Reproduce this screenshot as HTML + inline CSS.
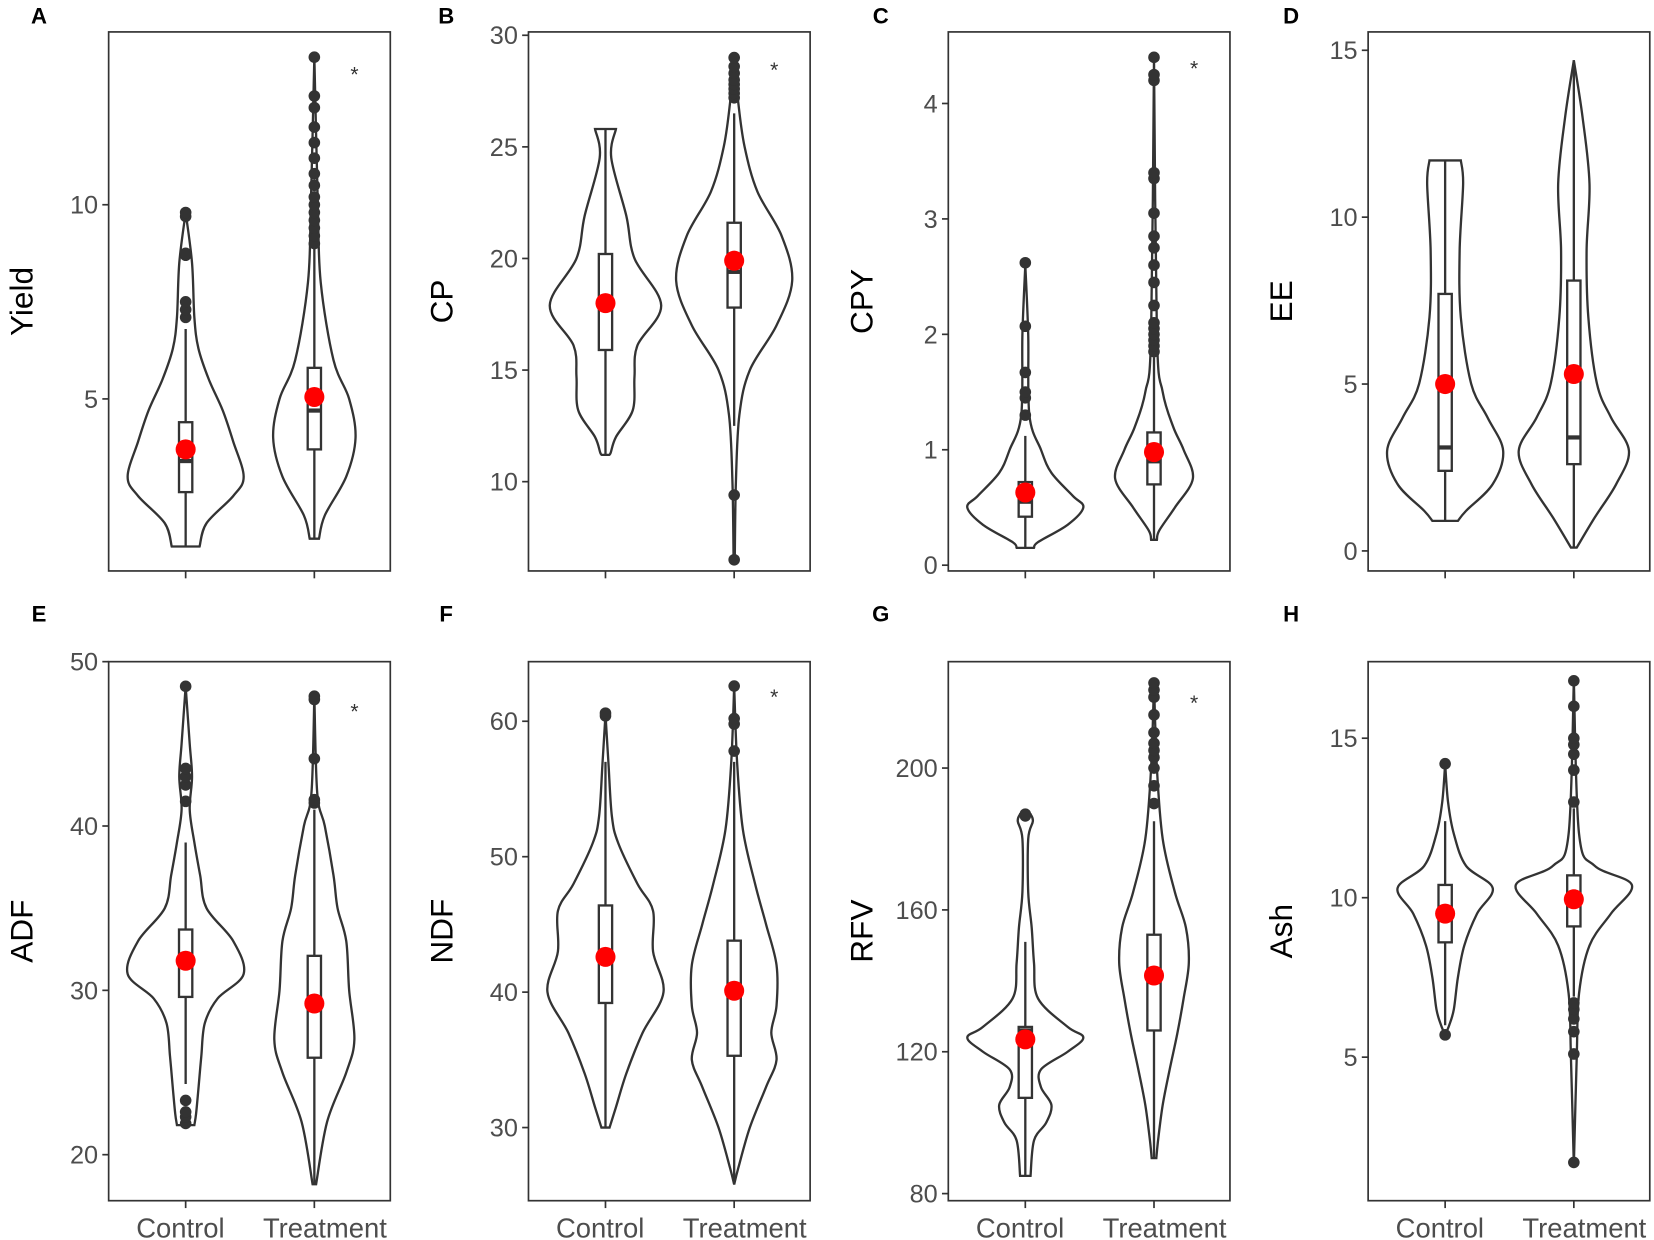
<!DOCTYPE html>
<html><head><meta charset="utf-8"><style>
html,body{margin:0;padding:0;background:#fff;}
svg{display:block;font-family:"Liberation Sans",Arial,sans-serif;}
</style></head><body>
<svg id="chart" width="1654" height="1240" viewBox="0 0 1568 1175" xmlns="http://www.w3.org/2000/svg"></svg>
<script>
// ---------- DATA ----------
const categories = ["Control", "Treatment"];
const panelLetters = ["A","B","C","D","E","F","G","H"];
const panelTitles = ["Yield","CP","CPY","EE","ADF","NDF","RFV","Ash"];
const yTicks = [[5,10],[10,15,20,25,30],[0,1,2,3,4],[0,5,10,15],[20,30,40,50],[30,40,50,60],[80,120,160,200],[5,10,15]];
const yDomains = [[0.57,14.45],[6.0,30.15],[-0.05,4.62],[-0.6,15.55],[17.2,50.0],[24.6,64.4],[78,230],[0.5,17.4]];
const signif = [true,true,true,false,true,true,true,false];
const sigValue = [13.5,28.7,4.35,0,47.3,62.2,220,0];

// density profiles [value, relative half-width 0..1]
const yieldCtrlDensity = [[9.8,0],[8.5,0.11],[7.1,0.15],[6.3,0.22],[5.5,0.4],[4.7,0.64],[3.9,0.82],[3.0,1],[2.5,0.82],[1.8,0.36],[1.2,0.24]];
const yieldTrtDensity = [[13.8,0],[10,0.06],[8,0.11],[6,0.33],[5,0.6],[4,0.71],[3,0.55],[2,0.18],[1.4,0.08]];
const cpCtrlDensity = [[25.8,0.18],[24.5,0.1],[21.9,0.36],[20,0.5],[17.9,0.96],[16.1,0.55],[14.7,0.5],[13.2,0.47],[12,0.18],[11.3,0.09],[11.2,0.06]];
const cpTrtDensity = [[29,0],[27,0.07],[25,0.18],[23,0.4],[21,0.82],[19,1],[17,0.73],[15,0.27],[13,0.09],[10,0.03],[6.5,0.01]];
const cpyCtrlDensity = [[2.6,0],[2,0.05],[1.3,0.07],[1.0,0.27],[0.8,0.45],[0.6,0.82],[0.5,1],[0.35,0.73],[0.2,0.22],[0.15,0.15]];
const cpyTrtDensity = [[4.4,0],[2,0.05],[1.5,0.15],[1.2,0.33],[1.0,0.51],[0.75,0.67],[0.5,0.36],[0.3,0.09],[0.22,0.05]];
const eeCtrlDensity = [[11.7,0.27],[11,0.31],[9,0.25],[7,0.27],[5,0.45],[4,0.73],[3,1],[2,0.82],[1.2,0.36],[0.9,0.22]];
const eeTrtDensity = [[14.7,0],[13,0.15],[11,0.27],[9,0.22],[7,0.25],[5,0.4],[4,0.64],[3,0.95],[2,0.73],[1,0.36],[0.1,0.05]];
const adfCtrlDensity = [[48.5,0],[45,0.07],[43,0.11],[41,0.07],[39,0.15],[37,0.25],[35,0.36],[33,0.82],[31,1],[29.5,0.55],[28,0.33],[26,0.27],[24,0.22],[22.5,0.18],[21.8,0.15]];
const adfTrtDensity = [[47.9,0],[42,0.05],[40,0.18],[37,0.33],[35,0.4],[33,0.55],[30,0.6],[27,0.69],[25,0.55],[22,0.22],[18.2,0.03]];
const ndfCtrlDensity = [[60.5,0],[57,0.05],[53,0.11],[51,0.22],[48,0.55],[46,0.82],[43,0.82],[40,1],[37,0.64],[34,0.36],[31.5,0.18],[30,0.07]];
const ndfTrtDensity = [[62.6,0],[57,0.05],[52,0.15],[48,0.36],[45,0.55],[42,0.73],[39,0.73],[37,0.64],[35,0.73],[33,0.55],[30,0.27],[27,0.07],[25.8,0]];
const rfvCtrlDensity = [[187,0.09],[185,0.13],[180,0.05],[165,0.05],[155,0.11],[145,0.15],[135,0.22],[127,0.73],[124,1],[120,0.73],[115,0.27],[110,0.27],[105,0.45],[100,0.36],[95,0.15],[85,0.09]];
const rfvTrtDensity = [[224,0],[200,0.05],[180,0.15],[165,0.36],[155,0.55],[145,0.6],[135,0.51],[125,0.4],[115,0.27],[105,0.15],[95,0.07],[90,0.04]];
const ashCtrlDensity = [[14.2,0],[13,0.05],[12,0.15],[11,0.36],[10.3,0.82],[9.5,0.55],[8.5,0.33],[7.5,0.22],[6.5,0.15],[6,0.07],[5.7,0]];
const ashTrtDensity = [[16.8,0],[12,0.09],[11,0.36],[10.4,1],[9.5,0.64],[8.5,0.27],[7,0.09],[5,0.05],[1.6,0]];

// box stats [whiskerLow, q1, median, q3, whiskerHigh], means
const boxCtrl = [[1.2,2.6,3.4,4.4,6.8],[11.2,15.9,18,20.2,25.8],[0.15,0.42,0.55,0.72,1.12],[0.9,2.4,3.1,7.7,11.7],[24.3,29.6,31.5,33.7,39],[30,39.2,42.6,46.4,57],[85,107,126,127,151],[6.0,8.6,9.5,10.4,12.4]];
const boxTrt = [[1.4,3.7,4.7,5.8,9.0],[12.5,17.8,19.4,21.6,26.5],[0.22,0.7,0.9,1.15,1.8],[0.1,2.6,3.4,8.1,14.7],[18.2,25.9,28.8,32.1,41],[25.8,35.3,40,43.8,57],[90,126,140,153,185],[6.9,9.1,10,10.7,12.8]];
const meanCtrl = [3.7,18,0.63,5.0,31.8,42.6,123.5,9.5];
const meanTrt = [5.05,19.9,0.98,5.3,29.2,40.1,141.5,9.95];

// outliers
const outCtrl = [[7.1,7.3,7.5,8.7,8.75,9.7,9.8],[],[1.3,1.45,1.5,1.67,2.07,2.62],[],[21.9,22.3,22.6,23.3,41.5,42.5,43,43.5,48.5],[60.4,60.6],[186.5,187],[5.7,14.2]];
const outTrt = [[9.0,9.2,9.4,9.6,9.8,10.0,10.2,10.5,10.8,11.2,11.6,12.0,12.5,12.8,13.8],[6.5,9.4,27.2,27.4,27.6,27.8,28,28.3,28.6,29],[1.85,1.9,1.95,2.0,2.05,2.1,2.25,2.45,2.6,2.75,2.85,3.05,3.35,3.4,4.2,4.25,4.4],[],[41.4,41.6,44.1,47.7,47.9],[57.8,59.8,60.2,62.6],[190,195,200,203,205,207,210,215,220,222,224],[1.7,5.1,5.8,6.2,6.5,6.7,13.0,14.0,14.5,14.8,15.0,16.0,16.8]];

const densCtrl = [yieldCtrlDensity,cpCtrlDensity,cpyCtrlDensity,eeCtrlDensity,adfCtrlDensity,ndfCtrlDensity,rfvCtrlDensity,ashCtrlDensity];
const densTrt = [yieldTrtDensity,cpTrtDensity,cpyTrtDensity,eeTrtDensity,adfTrtDensity,ndfTrtDensity,rfvTrtDensity,ashTrtDensity];

// ---------- LAYOUT ----------
const NS = "http://www.w3.org/2000/svg";
const svg = document.getElementById('chart');
const colLeft = [103,501,899,1297];
const rowTop = [30,627];
const labelY = [22,589];
const labelX = [37,423,835,1224];
const PW = 267, PH = 511;
const maxHalf = 55;
const ink = "#333333";

function mk(tag, attrs, parent){
  const e = document.createElementNS(NS, tag);
  for (const k in attrs) e.setAttribute(k, attrs[k]);
  (parent||svg).appendChild(e);
  return e;
}
function smoothPath(pts){
  let d = "M" + pts[0][0] + "," + pts[0][1];
  for (let i=0;i<pts.length-1;i++){
    const p0 = pts[i-1]||pts[i], p1=pts[i], p2=pts[i+1], p3=pts[i+2]||p2;
    const c1x = p1[0]+(p2[0]-p0[0])/6, c1y = p1[1]+(p2[1]-p0[1])/6;
    const c2x = p2[0]-(p3[0]-p1[0])/6, c2y = p2[1]-(p3[1]-p1[1])/6;
    d += " C"+c1x+","+c1y+" "+c2x+","+c2y+" "+p2[0]+","+p2[1];
  }
  return d;
}

for (let p=0;p<8;p++){
  const col = p%4, row = Math.floor(p/4);
  const L = colLeft[col], T = rowTop[row];
  const dom = yDomains[p];
  const y = v => T + PH - (v-dom[0])/(dom[1]-dom[0])*PH;
  const xc = [L+73, L+195];
  const g = mk('g', {});
  
  

  const lab = mk('text', {x: labelX[col], y: labelY[row], 'font-size':21, 'font-weight':'bold', fill:'#000', 'text-anchor':'middle'}, g);
  lab.textContent = panelLetters[p];
  
  

  const frame = mk('rect', {x:L, y:T, width:PW, height:PH, fill:'none', stroke:ink, 'stroke-width':1.6}, g);
  
  

  yTicks[p].forEach(t=>{
    const ty = y(t);
    mk('line', {x1:L-6, x2:L, y1:ty, y2:ty, stroke:ink, 'stroke-width':1.6}, g);
    const tt = mk('text', {x:L-10, y:ty+8.5, 'font-size':24, fill:'#4d4d4d', 'text-anchor':'end'}, g);
    tt.textContent = t;
    
    
  });
  const yt = mk('text', {x:0, y:0, 'font-size':30, fill:'#000', 'text-anchor':'middle', transform:'translate('+(L-72)+','+(T+PH/2)+') rotate(-90)'}, g);
  yt.textContent = panelTitles[p];
  
  

  xc.forEach((x,i)=>{
    mk('line', {x1:x, x2:x, y1:T+PH, y2:T+PH+7, stroke:ink, 'stroke-width':1.6}, g);
    if (row===1){
      const xt = mk('text', {x:x-(i===0?5:-10), y:T+PH+35, 'font-size':26, fill:'#4d4d4d', 'text-anchor':'middle'}, g);
      xt.textContent = categories[i];
      
      
    }
  });

  [densCtrl[p], densTrt[p]].forEach((dens,i)=>{
    const x = xc[i];
    const right = dens.map(d=>[x+d[1]*maxHalf, y(d[0])]);
    const left = dens.slice().reverse().map(d=>[x-d[1]*maxHalf, y(d[0])]);
    let d = smoothPath(right);
    d += " L" + left[0][0] + "," + left[0][1];
    d += smoothPath(left).replace(/^M[^C]*/, " ");
    d += " Z";
    const v = mk('path', {d:d, fill:'none', stroke:ink, 'stroke-width':2.2}, g);
    
    

    const b = (i===0?boxCtrl:boxTrt)[p];
    mk('line', {x1:x, x2:x, y1:y(b[0]), y2:y(b[1]), stroke:ink, 'stroke-width':2.2}, g);
    mk('line', {x1:x, x2:x, y1:y(b[3]), y2:y(b[4]), stroke:ink, 'stroke-width':2.2}, g);
    const bx = mk('rect', {x:x-6.3, y:y(b[3]), width:12.6, height:y(b[1])-y(b[3]), fill:'#fff', stroke:ink, 'stroke-width':2.2}, g);
    
    
    mk('line', {x1:x-6.3, x2:x+6.3, y1:y(b[2]), y2:y(b[2]), stroke:ink, 'stroke-width':4}, g);

    (i===0?outCtrl:outTrt)[p].forEach(o=>{
      const c = mk('circle', {cx:x, cy:y(o), r:5.5, fill:ink}, g);
      
      
    });
    const m = mk('circle', {cx:x, cy:y((i===0?meanCtrl:meanTrt)[p]), r:9.5, fill:'#ff0000'}, g);
    
    
  });

  if (signif[p]){
    const s = mk('text', {x:xc[1]+38, y:y(sigValue[p])+12, 'font-size':20, fill:ink, 'text-anchor':'middle'}, g);
    s.textContent = "*";
    
    
  }
}
</script>
</body></html>
